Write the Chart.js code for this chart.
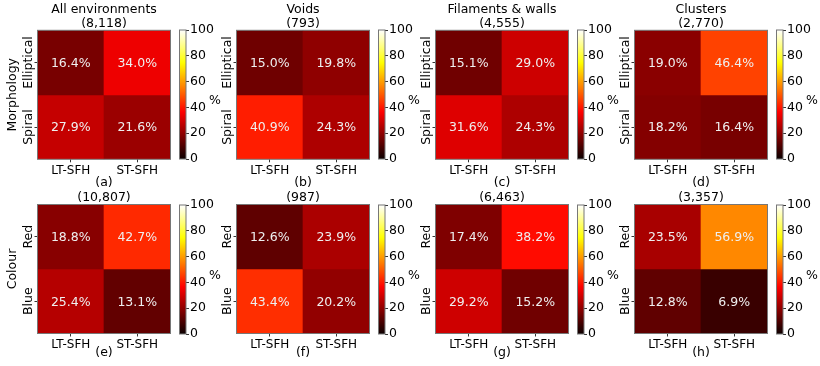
<!DOCTYPE html>
<html>
<head>
<meta charset="utf-8">
<script src="https://cdn.jsdelivr.net/npm/chart.js@4/dist/chart.umd.min.js"></script>
<style>
  html, body { margin: 0; padding: 0; background: #ffffff; }
  #fig { position: relative; width: 820px; height: 366px; overflow: hidden; background: #ffffff; }
  #fig canvas { position: absolute; }
</style>
</head>
<body>
<div id="fig"></div>
<script>
// ---- data -------------------------------------------------------------
const sfhLabels = ['LT-SFH', 'ST-SFH'];
const morphologyRows = ['Elliptical', 'Spiral'];
const colourRows = ['Red', 'Blue'];
const environments = ['All environments', 'Voids', 'Filaments & walls', 'Clusters'];
const morphologyCounts = ['(8,118)', '(793)', '(4,555)', '(2,770)'];
const colourCounts = ['(10,807)', '(987)', '(6,463)', '(3,357)'];
const panelLetters = [['(a)', '(b)', '(c)', '(d)'], ['(e)', '(f)', '(g)', '(h)']];
const ellipticalPct = [[16.4, 34.0], [15.0, 19.8], [15.1, 29.0], [19.0, 46.4]];
const spiralPct = [[27.9, 21.6], [40.9, 24.3], [31.6, 24.3], [18.2, 16.4]];
const redPct = [[18.8, 42.7], [12.6, 23.9], [17.4, 38.2], [23.5, 56.9]];
const bluePct = [[25.4, 13.1], [43.4, 20.2], [29.2, 15.2], [12.8, 6.9]];
const colourbarTicks = [0, 20, 40, 60, 80, 100];

// ---- layout -----------------------------------------------------------
const FONT = "'DejaVu Sans', 'Liberation Sans', sans-serif";
const heatLeft = [37.5, 236.5, 435.5, 634.5];
const HEAT_W = 133, HEAT_H = 129, Y_AXIS_W = 37.5;
const rowLayout = [
  { heatTop: 30.3, canvasTop: 0,   canvasH: 190, titleY: [10, 24], captionY: 182.5 },
  { heatTop: 204.5, canvasTop: 173, canvasH: 193, titleY: [198],   captionY: 353 }
];

// matplotlib "hot" colour map, value in percent
const HOT_R = 0.365079, HOT_G = 0.746032;
function hot(pct) {
  const t = Math.min(1, Math.max(0, pct / 100));
  const r = t < HOT_R ? 0.0416 + (1 - 0.0416) * t / HOT_R : 1;
  const g = t < HOT_R ? 0 : (t < HOT_G ? (t - HOT_R) / (HOT_G - HOT_R) : 1);
  const b = t < HOT_G ? 0 : (t - HOT_G) / (1 - HOT_G);
  return `rgb(${Math.round(r * 255)},${Math.round(g * 255)},${Math.round(b * 255)})`;
}

Chart.defaults.font.family = FONT;
Chart.defaults.color = '#000';
Chart.defaults.animation = false;
Chart.defaults.events = [];
Chart.defaults.plugins.legend.display = false;
Chart.defaults.plugins.tooltip.enabled = false;

const fig = document.getElementById('fig');
function addCanvas(left, top, w, h) {
  const c = document.createElement('canvas');
  c.width = w; c.height = h;
  c.style.left = left + 'px'; c.style.top = top + 'px';
  c.style.width = w + 'px'; c.style.height = h + 'px';
  fig.appendChild(c);
  return c;
}

// cell values, frame and rotated row labels of a heatmap panel
const heatDecor = {
  id: 'heatDecor',
  afterDatasetsDraw(chart, args, opts) {
    const ctx = chart.ctx;
    ctx.save();
    ctx.font = `12.5px ${FONT}`;
    ctx.fillStyle = '#efefef';
    ctx.textAlign = 'center';
    ctx.textBaseline = 'middle';
    chart.data.datasets.forEach((ds, di) => {
      chart.getDatasetMeta(di).data.forEach((bar, i) => {
        const p = bar.getProps(['x', 'y', 'base'], true);
        ctx.fillText(ds.pct[i].toFixed(1) + '%', p.x, (p.y + p.base) / 2 + 1);
      });
    });
    const a = chart.chartArea;
    ctx.strokeStyle = '#777';
    ctx.lineWidth = 1;
    ctx.strokeRect(a.left, a.top, a.right - a.left, a.bottom - a.top);
    // row labels, rotated like the axis title
    const ys = chart.scales.y;
    ctx.fillStyle = '#000';
    ctx.font = `12.5px ${FONT}`;
    opts.rowNames.forEach((name, i) => {
      const yPix = ys.getPixelForValue(1.5 - i);
      ctx.save();
      ctx.translate(a.left - 8.5, yPix);
      ctx.rotate(-Math.PI / 2);
      ctx.fillText(name, 0, 0);
      ctx.restore();
    });
    ctx.restore();
  }
};

// frame and unit label of a colour bar
const barDecor = {
  id: 'barDecor',
  afterDatasetsDraw(chart) {
    const ctx = chart.ctx, a = chart.chartArea;
    ctx.save();
    ctx.strokeStyle = '#777';
    ctx.lineWidth = 1;
    ctx.strokeRect(a.left, a.top, a.right - a.left, a.bottom - a.top);
    ctx.fillStyle = '#000';
    ctx.font = `12.5px ${FONT}`;
    ctx.textAlign = 'center';
    ctx.textBaseline = 'middle';
    ctx.fillText('%', a.left + 35.5, (a.top + a.bottom) / 2 + 6);
    ctx.restore();
  }
};

function makeHeatmap(col, row) {
  const L = rowLayout[row];
  const canvasLeft = heatLeft[col] - Y_AXIS_W;
  const canvasW = Math.ceil(Y_AXIS_W + HEAT_W);
  const padRight = canvasW - Y_AXIS_W - HEAT_W;
  const canvas = addCanvas(canvasLeft, L.canvasTop, canvasW, L.canvasH);
  const chartTop = L.heatTop - L.canvasTop;
  const chartBottom = chartTop + HEAT_H;
  const xAxisH = L.canvasH - chartBottom;
  const topVals = row === 0 ? ellipticalPct[col] : redPct[col];
  const botVals = row === 0 ? spiralPct[col] : bluePct[col];
  const rowNames = row === 0 ? morphologyRows : colourRows;
  const titleText = row === 0 ? [environments[col], morphologyCounts[col]] : [colourCounts[col]];
  const lh = 14;
  const titlePadTop = L.titleY[0] - L.canvasTop - lh / 2;
  const titlePadBottom = chartTop - titlePadTop - lh * titleText.length;
  const captionPadBottom = L.canvasH - (L.captionY - L.canvasTop) - 7;

  new Chart(canvas, {
    type: 'bar',
    data: {
      labels: sfhLabels,
      datasets: [
        { label: rowNames[0], pct: topVals, data: topVals.map(() => [1, 2]),
          backgroundColor: topVals.map(hot) },
        { label: rowNames[1], pct: botVals, data: botVals.map(() => [0, 1]),
          backgroundColor: botVals.map(hot) }
      ]
    },
    options: {
      responsive: false,
      devicePixelRatio: 1,
      layout: { padding: { left: 0, top: 0, right: padRight, bottom: 0 } },
      datasets: { bar: { grouped: false, barPercentage: 1, categoryPercentage: 1,
                         borderWidth: 0, borderSkipped: false } },
      plugins: {
        title: {
          display: true, text: titleText, color: '#000', align: 'center',
          fullSize: false,   // centre the title over the cells, not the canvas
          font: { family: FONT, size: 12.5, weight: 'normal', lineHeight: lh + 'px' },
          padding: { top: titlePadTop, bottom: titlePadBottom }
        },
        heatDecor: { rowNames }
      },
      scales: {
        x: {
          type: 'category', offset: true,
          grid: { offset: false, drawOnChartArea: false, drawTicks: true, tickLength: 3,
                  color: '#000', lineWidth: 0.8 },
          border: { display: false },
          ticks: { font: { family: FONT, size: 12 }, color: '#000', padding: 1,
                   maxRotation: 0, minRotation: 0, autoSkip: false },
          title: { display: true, text: panelLetters[row][col], color: '#000',
                   font: { family: FONT, size: 12.5, lineHeight: '14px' },
                   padding: { top: 0, bottom: captionPadBottom } },
          afterFit: s => { s.height = xAxisH; }
        },
        y: {
          type: 'linear', min: 0, max: 2,
          afterBuildTicks: s => { s.ticks = [{ value: 0.5 }, { value: 1.5 }]; },
          ticks: { display: false },
          grid: { drawOnChartArea: false, drawTicks: true, tickLength: 3,
                  color: '#000', lineWidth: 0.8 },
          border: { display: false },
          title: { display: col === 0, text: row === 0 ? 'Morphology' : 'Colour', color: '#000',
                   font: { family: FONT, size: 12.5, lineHeight: '14px' },
                   padding: { top: 6, bottom: 0 } },
          afterFit: s => { s.width = Y_AXIS_W; }
        }
      }
    },
    plugins: [heatDecor]
  });
}

function makeColourbar(col, row) {
  const L = rowLayout[row];
  const cbLeft = heatLeft[col] + 142;
  const cbW = 6.5, pad = 10, canvasW = 50;
  const canvasLeft = Math.floor(cbLeft);
  const padLeft = cbLeft - canvasLeft;
  const canvas = addCanvas(canvasLeft, L.heatTop - pad, canvasW, HEAT_H + 2 * pad);
  new Chart(canvas, {
    type: 'bar',
    data: {
      labels: [''],
      datasets: [{
        data: [[colourbarTicks[0], colourbarTicks[colourbarTicks.length - 1]]],
        backgroundColor: (c) => {
          const a = c.chart.chartArea;
          if (!a) return '#000';
          const g = c.chart.ctx.createLinearGradient(0, a.bottom, 0, a.top);
          [0, HOT_R, HOT_G, 1].forEach(t => g.addColorStop(t, hot(t * 100)));
          return g;
        },
        barPercentage: 1, categoryPercentage: 1, borderWidth: 0
      }]
    },
    options: {
      responsive: false,
      devicePixelRatio: 1,
      layout: { padding: { left: padLeft, top: pad, right: 0, bottom: pad } },
      scales: {
        x: { display: false },
        y: {
          position: 'right', min: 0, max: 100,
          afterBuildTicks: s => { s.ticks = colourbarTicks.map(v => ({ value: v })); },
          ticks: { font: { family: FONT, size: 12.5 }, color: '#000', padding: 1 },
          grid: { drawOnChartArea: false, drawTicks: true, tickLength: 3,
                  color: '#000', lineWidth: 0.8 },
          border: { display: false },
          afterFit: s => { s.width = canvasW - padLeft - cbW; }
        }
      }
    },
    plugins: [barDecor]
  });
}

for (let row = 0; row < 2; row++) {
  for (let col = 0; col < 4; col++) {
    makeHeatmap(col, row);
    makeColourbar(col, row);
  }
}
</script>
</body>
</html>
